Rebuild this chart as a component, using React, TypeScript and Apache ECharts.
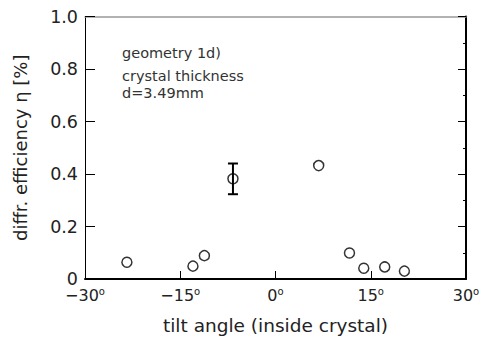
import React, { useEffect, useRef } from "react";
import * as echarts from "echarts";

const angles = [-23.4, -13.0, -11.2, -6.7, 6.8, 11.65, 13.9, 17.2, 20.3];
const efficiency = [0.064, 0.049, 0.089, 0.382, 0.432, 0.099, 0.041, 0.046, 0.03];
const errorBars = [[-6.7, 0.323, 0.44]];
const xTicks = [-30, -15, 0, 15, 30];
const yTicks = [0, 0.2, 0.4, 0.6, 0.8, 1.0];
const notes = ["geometry 1d)", "crystal thickness", "d=3.49mm"];

const FONT = "DejaVu Sans";

export default function App() {
  const ref = useRef<HTMLDivElement>(null);
  useEffect(() => {
    const chart = echarts.init(ref.current!, null, { renderer: "svg" });
    const points = angles.map((a, i) => [a, efficiency[i]]);
    chart.setOption({
      animation: false,
      backgroundColor: "#fff",
      grid: { left: 85, right: 17, top: 16.5, bottom: 57 },
      xAxis: [
        {
          type: "value",
          min: xTicks[0],
          max: xTicks[xTicks.length - 1],
          interval: 15,
          name: "tilt angle (inside crystal)",
          nameLocation: "middle",
          nameGap: 37,
          nameTextStyle: { fontFamily: FONT, fontSize: 18.5, color: "#222" },
          axisLine: { onZero: false, lineStyle: { color: "#000", width: 2 } },
          axisTick: { inside: true, length: 8, lineStyle: { color: "#000", width: 1 } },
          splitLine: { show: false },
          axisLabel: {
            margin: 7,
            formatter: (v: number) => `{n|${v < 0 ? "\u2212" : ""}${Math.abs(v)}}{s|o}`,
            rich: {
              n: { fontFamily: FONT, fontSize: 16, color: "#222", lineHeight: 18, verticalAlign: "middle" },
              s: { fontFamily: FONT, fontSize: 10, color: "#222", verticalAlign: "top", lineHeight: 9 },
            },
          },
        },
        {
          type: "value",
          position: "top",
          min: -30,
          max: 30,
          axisLine: { show: true, onZero: false, lineStyle: { color: "#999", width: 1.5 } },
          axisTick: { show: false },
          axisLabel: { show: false },
          splitLine: { show: false },
        },
      ],
      yAxis: [
        {
          type: "value",
          min: yTicks[0],
          max: yTicks[yTicks.length - 1],
          interval: 0.2,
          name: "diffr. efficiency \u03b7 [%]",
          nameLocation: "middle",
          nameGap: 56,
          nameTextStyle: { fontFamily: FONT, fontSize: 18, color: "#222" },
          axisLine: { show: true, onZero: false, lineStyle: { color: "#000", width: 1 } },
          axisTick: { show: true, inside: true, length: 10, lineStyle: { color: "#000", width: 1 } },
          splitLine: { show: false },
          axisLabel: {
            margin: 7,
            fontFamily: FONT,
            fontSize: 17.5,
            lineHeight: 12,
            color: "#222",
            formatter: (v: number) => (v === 0 ? "0" : v.toFixed(1)),
          },
        },
        {
          type: "value",
          position: "right",
          min: 0,
          max: 1,
          interval: 0.2,
          axisLine: { show: true, onZero: false, lineStyle: { color: "#000", width: 2 } },
          axisTick: { show: true, inside: true, length: 8, lineStyle: { color: "#000", width: 1 } },
          minorTick: { show: true, splitNumber: 2, length: 3, lineStyle: { color: "#000" } },
          axisLabel: { show: false },
          splitLine: { show: false },
        },
      ],
      graphic: notes.map((t, i) => ({
        type: "text",
        x: 122,
        y: [53, 76, 92.5][i],
        style: { text: t, fontFamily: FONT, fontSize: 14.5, fill: "#333", verticalAlign: "middle" },
      })),
      series: [
        {
          type: "custom",
          data: errorBars,
          encode: { x: 0, y: [1, 2] },
          renderItem: (params: any, api: any) => {
            const x = api.value(0);
            const lo = api.coord([x, api.value(1)]);
            const hi = api.coord([x, api.value(2)]);
            const w = 5;
            const style = { stroke: "#000", lineWidth: 2 };
            return {
              type: "group",
              children: [
                { type: "line", shape: { x1: lo[0], y1: lo[1], x2: hi[0], y2: hi[1] }, style },
                { type: "line", shape: { x1: lo[0] - w, y1: lo[1], x2: lo[0] + w, y2: lo[1] }, style },
                { type: "line", shape: { x1: hi[0] - w, y1: hi[1], x2: hi[0] + w, y2: hi[1] }, style },
              ],
            };
          },
          z: 3,
        },
        {
          type: "scatter",
          data: points,
          symbol: "circle",
          symbolSize: 10,
          itemStyle: { color: "rgba(255,255,255,0)", borderColor: "#000", borderWidth: 1.5 },
          z: 4,
        },
      ],
    });
    return () => chart.dispose();
  }, []);
  return <div ref={ref} style={{ width: 483, height: 340, position: "absolute", left: 0, top: 0 }} />;
}
